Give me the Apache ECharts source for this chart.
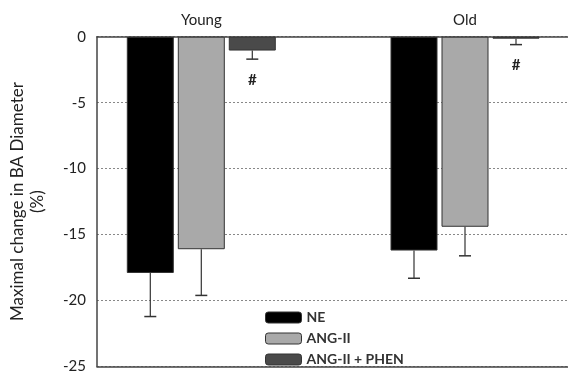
<!DOCTYPE html>
<html>
<head>
<meta charset="utf-8">
<script src="https://cdn.jsdelivr.net/npm/echarts@6/dist/echarts.min.js"></script>
<style>
  html, body { margin: 0; padding: 0; background: #fff; }
  #chart { width: 568px; height: 374px; }
</style>
</head>
<body>
<div id="chart"></div>
<script>
// data
var groups = ['Young', 'Old'];
var seriesNames = ['NE', 'ANG-II', 'ANG-II + PHEN'];
var neMean = [-17.9, -16.2];
var neErr = [3.3, 2.1];
var angMean = [-16.1, -14.4];
var angErr = [3.5, 2.2];
var phenMean = [-1.05, -0.15];
var phenErr = [0.65, 0.45];
var phenMarks = ['#', '#'];
var yTicks = [0, -5, -10, -15, -20, -25];

var colors = ['#000000', '#a9a9a9', '#4a4a4a'];
var barW = 47, barGapPx = 4;
var fontFam = 'Lato, Open Sans, sans-serif';

var chart = echarts.init(document.getElementById('chart'));

function errSeries(idx, means, errs, marks) {
  var data = means.map(function (m, i) { return [i, m, errs[i]]; });
  return {
    type: 'custom',
    xAxisIndex: 2,
    yAxisIndex: 1,
    z: 5,
    silent: true,
    clip: false,
    data: data,
    renderItem: function (params, api) {
      var cat = api.value(0);
      var top = api.coord([cat, api.value(1)]);
      var bot = api.coord([cat, api.value(1) - api.value(2)]);
      var x = top[0] + (idx - 1) * (barW + barGapPx);
      var cap = 6;
      var kids = [
        { type: 'line', shape: { x1: x, y1: top[1], x2: x, y2: bot[1] }, style: { stroke: '#333', lineWidth: 1.2 } },
        { type: 'line', shape: { x1: x - cap, y1: bot[1], x2: x + cap, y2: bot[1] }, style: { stroke: '#333', lineWidth: 1.5 } }
      ];
      if (marks) {
        kids.push({
          type: 'text',
          style: {
            x: x, y: bot[1] + 21, text: marks[params.dataIndex],
            textAlign: 'center', textVerticalAlign: 'middle',
            font: 'bold 15px ' + fontFam, fill: '#222'
          }
        });
      }
      return { type: 'group', children: kids };
    }
  };
}

function barSeries(name, vals, color) {
  return {
    name: name,
    type: 'bar',
    xAxisIndex: 2,
    yAxisIndex: 1,
    clip: false,
    barWidth: barW,
    barGap: (barGapPx / barW * 100).toFixed(1) + '%',
    data: vals,
    itemStyle: { color: color, borderColor: '#333', borderWidth: 1 }
  };
}

var option = {
  animation: false,
  backgroundColor: '#fff',
  textStyle: { fontFamily: fontFam },
  grid: [
    { left: 95, right: 0, top: 36.7, bottom: 7.3 },
    // hidden grid spanning group centre to group centre
    { left: 201.3, right: 103, top: 36.7, bottom: 7.3 }
  ],
  legend: {
    orient: 'vertical',
    left: 260,
    top: 304,
    itemWidth: 36,
    itemHeight: 11,
    itemGap: 4,
    data: seriesNames,
    textStyle: { fontSize: 14, lineHeight: 17, fontWeight: 'bold', color: '#333', fontFamily: fontFam },
    itemStyle: { borderColor: '#333', borderWidth: 1 }
  },
  xAxis: [
    { gridIndex: 0, type: 'category', data: [''], position: 'bottom',
      axisLine: { onZero: false, lineStyle: { color: '#444', width: 1.5 } },
      axisTick: { show: false }, axisLabel: { show: false } },
    { gridIndex: 0, type: 'category', data: [''], position: 'top',
      axisLine: { onZero: false, lineStyle: { color: '#444', width: 1.5 } },
      axisTick: { show: false }, axisLabel: { show: false } },
    { gridIndex: 1, type: 'category', data: groups, position: 'top', boundaryGap: false,
      axisLine: { show: false }, axisTick: { show: false },
      axisLabel: { fontSize: 15, color: '#222', margin: 9, fontFamily: fontFam } }
  ],
  yAxis: [
    { gridIndex: 0, type: 'value', min: yTicks[yTicks.length - 1], max: yTicks[0], interval: 5,
      name: 'Maximal change in BA Diameter\n(%)',
      nameLocation: 'middle', nameRotate: 90, nameGap: 49,
      nameTextStyle: { fontSize: 17, color: '#222', lineHeight: 20, fontFamily: fontFam },
      axisLine: { show: true, lineStyle: { color: '#444', width: 1.5 } },
      axisTick: { show: false },
      axisLabel: { fontSize: 15, color: '#222', margin: 11, fontFamily: fontFam },
      splitLine: { show: true, lineStyle: { color: '#888', type: [2, 2], width: 1 } } },
    { gridIndex: 1, type: 'value', min: yTicks[yTicks.length - 1], max: yTicks[0], show: false,
      splitLine: { show: false } }
  ],
  series: [
    barSeries(seriesNames[0], neMean, colors[0]),
    barSeries(seriesNames[1], angMean, colors[1]),
    barSeries(seriesNames[2], phenMean, colors[2]),
    errSeries(0, neMean, neErr),
    errSeries(1, angMean, angErr),
    errSeries(2, phenMean, phenErr, phenMarks)
  ]
};

chart.setOption(option);
</script>
</body>
</html>
